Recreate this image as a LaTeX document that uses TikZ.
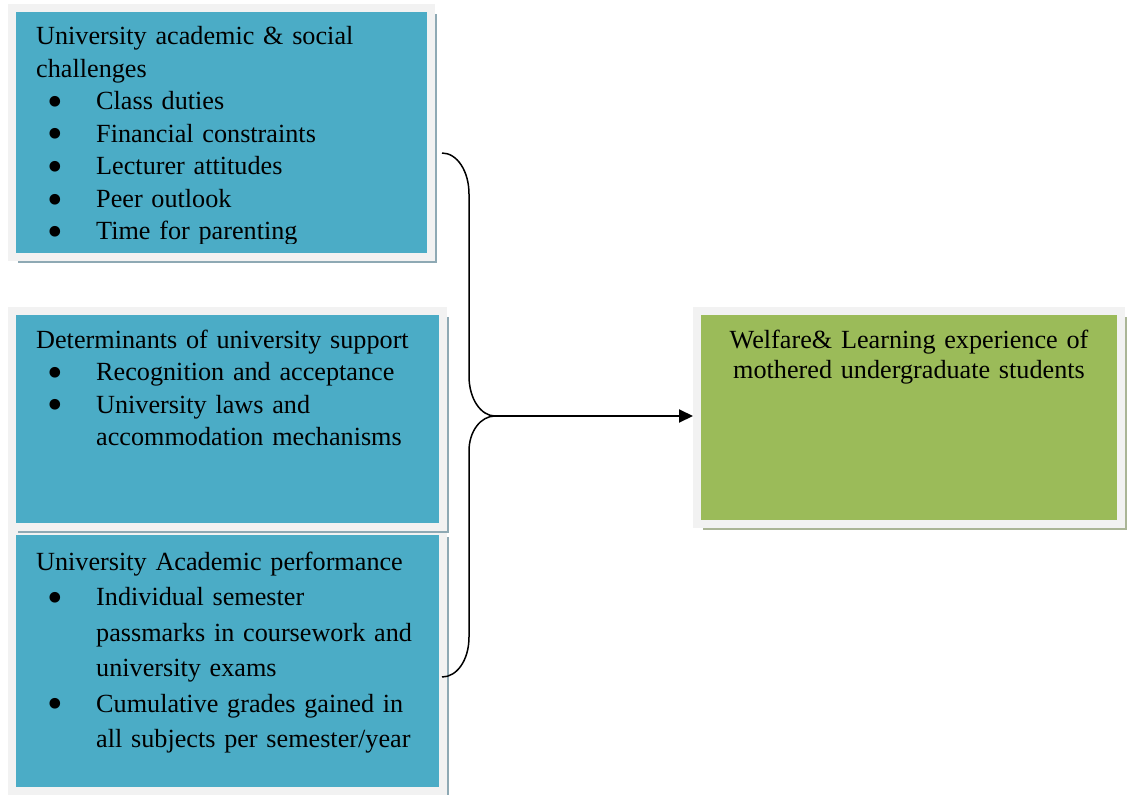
\documentclass[tikz,border=0pt]{standalone}
\usepackage{fontspec}
\setmainfont{Liberation Serif}
\usepackage{xcolor}
\usepackage{tikz}
\usetikzlibrary{arrows.meta, shadows}
\definecolor{panelblue}{HTML}{4BACC6}
\definecolor{panelgreen}{HTML}{9BBB59}
\definecolor{framegray}{HTML}{F2F2F2}
\definecolor{shadeblue}{HTML}{8EA9B4}
\definecolor{shadegreen}{HTML}{AAB596}
\newcommand{\bigbullet}{\smash{\raisebox{-6.5pt}{\scalebox{1.7}{\textbullet}}}}
\newenvironment{blist}{\begin{list}{\bigbullet}{%
    \setlength{\leftmargin}{60pt}\setlength{\labelwidth}{49pt}%
    \setlength{\labelsep}{0pt}\setlength{\itemsep}{0pt}\setlength{\parsep}{0pt}%
    \setlength{\topsep}{0pt}\setlength{\partopsep}{0pt}%
    \def\makelabel##1{##1\hfil}}}{\end{list}}
\tikzset{
  panelB/.style = {rectangle, draw=framegray, line width=8pt, fill=panelblue,
                   drop shadow={shadow xshift=6pt, shadow yshift=-6pt, fill=shadeblue, opacity=1}},
  panelG/.style = {rectangle, draw=framegray, line width=8pt, fill=panelgreen,
                   drop shadow={shadow xshift=6pt, shadow yshift=-6pt, fill=shadegreen, opacity=1}},
  txt/.style    = {inner sep=0pt, text width=420pt, align=left, anchor=base west},
  brace/.style  = {line width=1.5pt},
  arrow/.style  = {line width=2pt, -{Triangle[length=14pt, width=13pt]}},
}

\begin{document}
\begin{tikzpicture}[x=1pt, y=-1pt, every node/.style={font=\fontsize{26.2}{32.5}\selectfont}]
    \useasboundingbox (0,0) rectangle (1128,795);

    %% Left column: the three groups of factors
    \node[panelB, minimum width=419pt, minimum height=249pt] (chal) at (221.5,132.5) {};
    \node[panelB, minimum width=431pt, minimum height=260pt] (perf) at (227.5,661) {};
    \node[panelB, minimum width=431pt, minimum height=216pt] (supp) at (227.5,419) {};

    \begin{scope}
      \clip (16,12) rectangle (427,243);
      \node[txt] (chalT) at (36,45) {University academic \& social\newline challenges
        \begin{blist}
          \item Class duties
          \item Financial constraints
          \item Lecturer attitudes
          \item Peer outlook
          \item Time for parenting
        \end{blist}};
    \end{scope}
    \node[txt] (suppT) at (36,348) {Determinants of university support
      \begin{blist}
        \item Recognition and acceptance
        \item University laws and\newline accommodation mechanisms
      \end{blist}};
    \node[txt, font=\fontsize{26.2}{35.5}\selectfont] (perfT) at (36,570) {University Academic performance
      \begin{blist}
        \item Individual semester\newline passmarks in coursework and\newline university exams
        \item Cumulative grades gained in\newline all subjects per semester/year
      \end{blist}};

    %% Right: outcome
    \node[panelG, minimum width=424pt, minimum height=213pt] (welf) at (909,417.5) {};
    \node[inner sep=0pt, text width=420pt, align=center, anchor=base,
          font=\fontsize{26.2}{30}\selectfont] (welfT) at (909,348)
      {Welfare\& Learning experience of\\mothered undergraduate students};

    %% Brace joining the three groups
    \coordinate (btop) at (442,153);
    \coordinate (bbot) at (442,677);
    \coordinate (tip)  at (495,416);
    \draw[brace] (btop) .. controls (457,153) and (469,171) .. (469,194) -- (469,376)
                 .. controls (469,399) and (481,416) .. (tip);
    \draw[brace] (tip) .. controls (481,416) and (469,431) .. (469,451) -- (469,637)
                 .. controls (469,660) and (457,677) .. (bbot);

    \draw[arrow] (tip) -- (welf.west |- tip);

\end{tikzpicture}
\end{document}
